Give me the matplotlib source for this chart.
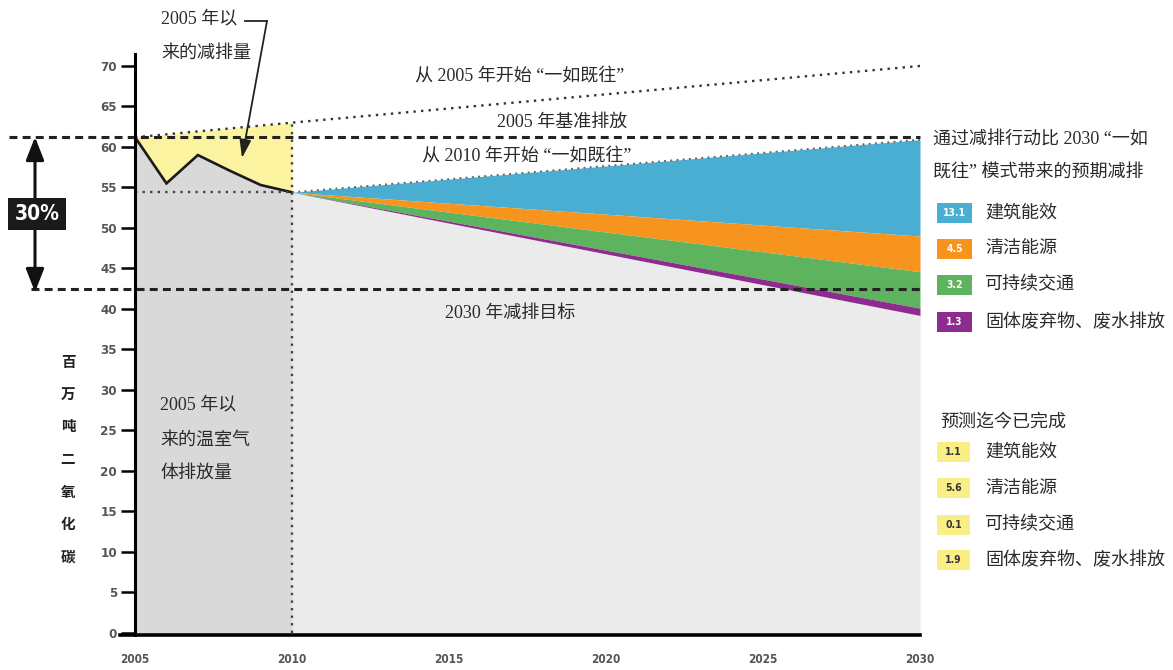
import numpy as np
import matplotlib.pyplot as plt
from matplotlib.patches import Rectangle

# emissions (million t CO2)
hist_years = [2005, 2006, 2007, 2008, 2009, 2010]
hist_vals = [61.2, 55.5, 59.0, 57.1, 55.3, 54.4]

bau05_years = [2005, 2010, 2030]
bau05_vals = [61.2, 63.0, 70.0]

proj_years = [2010, 2030]
bau10 = [54.4, 60.9]
after_build = [54.4, 49.0]
after_clean = [54.4, 44.6]
after_trans = [54.4, 40.1]
after_waste = [54.4, 39.2]

baseline_2005 = 61.2
target_2030 = 42.5

wedge_colors = ['#4aaed3', '#f7941e', '#5db35e', '#8e2b8f']
wedge_vals = ['13.1', '4.5', '3.2', '1.3']
wedge_names = ['建筑能效', '清洁能源', '可持续交通', '固体废弃物、废水排放']
done_vals = ['1.1', '5.6', '0.1', '1.9']

W, H = 1173, 670
def fx(x):
    return x / W
def fy(y):
    return 1 - y / H

CJK = ['Liberation Serif', 'Noto Sans CJK SC']
TICKF = dict(family='DejaVu Sans', stretch='condensed', weight='bold', color='#555555')

fig = plt.figure(figsize=(11.73, 6.70), dpi=100)
ax = fig.add_axes([fx(120), fy(635.4), 800 / W, (635.4 - 53.8) / H])
ax.set_xlim(2004.52, 2030)
ax.set_ylim(-0.3, 71.5)

# shaded areas
ax.fill_between(hist_years, 0, hist_vals, color='#d9d9d9', lw=0)
ax.fill_between(hist_years, hist_vals,
                np.interp(hist_years, bau05_years, bau05_vals), color='#fbf3a0', lw=0)
ax.fill_between(proj_years, 0, after_waste, color='#ebebeb', lw=0)
ax.fill_between(proj_years, after_build, bau10, color=wedge_colors[0], lw=0)
ax.fill_between(proj_years, after_clean, after_build, color=wedge_colors[1], lw=0)
ax.fill_between(proj_years, after_trans, after_clean, color=wedge_colors[2], lw=0)
ax.fill_between(proj_years, after_waste, after_trans, color=wedge_colors[3], lw=0)

ax.plot(hist_years, hist_vals, color='#1a1a1a', lw=1.9, solid_joinstyle='miter')

dot = (0, (1, 2.2))
ax.plot(bau05_years, bau05_vals, color='#333333', lw=1.7, ls=dot)
ax.plot(proj_years, bau10, color='#666666', lw=1.4, ls=dot)
ax.plot([2010, 2010], [0, bau05_vals[1]], color='#444444', lw=1.7, ls=dot)
ax.plot([2005, 2010], [hist_vals[-1], hist_vals[-1]], color='#444444', lw=1.7, ls=dot)

dash = (0, (2.6, 1.7))
ax.plot([2001.0, 2030], [baseline_2005] * 2, color='#222222', lw=2.2, ls=dash, clip_on=False)
ax.plot([2001.7, 2030], [target_2030] * 2, color='#222222', lw=2.2, ls=dash, clip_on=False)

# axes styling
for s in ['top', 'right']:
    ax.spines[s].set_visible(False)
ax.spines['left'].set_position(('data', 2005))
ax.spines['left'].set_linewidth(2.2)
ax.spines['bottom'].set_linewidth(2.6)
ax.set_yticks(range(0, 71, 5))
ax.set_xticks(range(2005, 2031, 5))
ax.tick_params(axis='y', length=10, width=1.8, pad=3, direction='out')
ax.tick_params(axis='x', length=0, pad=13)
for lab in ax.get_yticklabels():
    lab.set(size=9.5, **TICKF)
for lab in ax.get_xticklabels():
    lab.set(size=8.5, **TICKF)

# 30% marker
ax.annotate('', xy=(fx(35), fy(137)), xytext=(fx(35), fy(292)), xycoords='figure fraction',
            arrowprops=dict(arrowstyle='<|-|>,head_length=1.4,head_width=0.55',
                            color='#111111', lw=2.2, shrinkA=0, shrinkB=0))
fig.text(fx(37), fy(214), '30%', ha='center', va='center', color='white', size=15,
         weight='bold', stretch='condensed',
         bbox=dict(boxstyle='square,pad=0.3', fc='#1a1a1a', ec='none'))

# y label
for i, ch in enumerate('百万吨二氧化碳'):
    fig.text(fx(68), fy(363 + i * 32.5), ch, ha='center', va='center', size=10.5,
             family=CJK, weight='bold', color='#222222')

# annotations
def label(x, y, s, size=13, **kw):
    fig.text(fx(x), fy(y), s, ha='left', va='center', size=size, family=CJK,
             color='#2a2a2a', **kw)

label(161, 19, '2005 年以')
label(161, 53, '来的减排量')
fig.lines.append(plt.Line2D([fx(245), fx(267)], [fy(21), fy(21)], transform=fig.transFigure,
                            color='#222222', lw=1.3))
ax.annotate('', xy=(fx(242), fy(158)), xytext=(fx(267), fy(21)), xycoords='figure fraction',
            arrowprops=dict(arrowstyle='-|>,head_length=1.1,head_width=0.35',
                            color='#222222', lw=1.3, shrinkA=0, shrinkB=0))

label(415, 77, '从 2005 年开始 “一如既往”')
label(497, 122, '2005 年基准排放')
label(422, 157, '从 2010 年开始 “一如既往”')
label(445, 313, '2030 年减排目标')
label(160, 405, '2005 年以')
label(160, 440, '来的温室气')
label(160, 473, '体排放量')

label(933, 140, '通过减排行动比 2030 “一如')
label(933, 173, '既往” 模式带来的预期减排')
for i, (c, v, n) in enumerate(zip(wedge_colors, wedge_vals, wedge_names)):
    yc = [213, 249, 285, 322][i]
    fig.patches.append(Rectangle((fx(937), fy(yc + 10)), 35 / W, 20 / H,
                                 transform=fig.transFigure, fc=c, ec='none'))
    fig.text(fx(954.5), fy(yc), v, ha='center', va='center', size=7.5, color='white',
             weight='bold', stretch='condensed')
    label(985, yc, n)

label(940, 422, '预测迄今已完成')
for i, (v, n) in enumerate(zip(done_vals, wedge_names)):
    yc = [452, 488, 525, 560][i]
    fig.patches.append(Rectangle((fx(937), fy(yc + 10)), 33 / W, 20 / H,
                                 transform=fig.transFigure, fc='#f9ef86', ec='none'))
    fig.text(fx(953.5), fy(yc), v, ha='center', va='center', size=7.5, color='#333333',
             weight='bold', stretch='condensed')
    label(985, yc, n)

fig.savefig('out.png', dpi=100)
